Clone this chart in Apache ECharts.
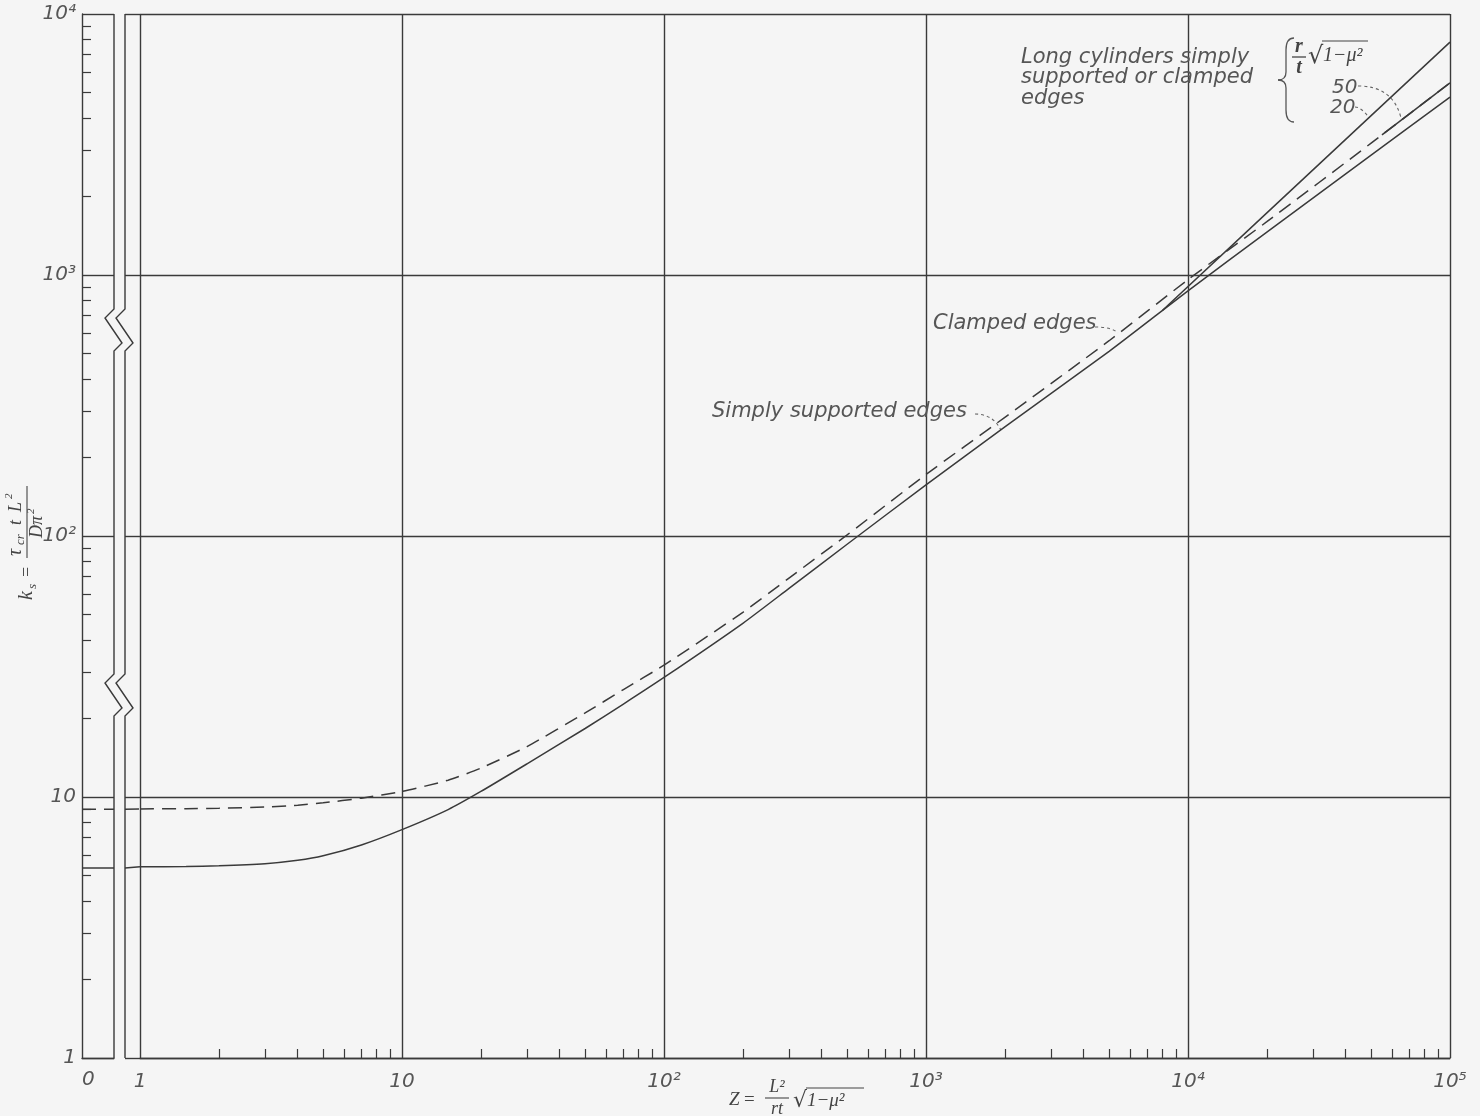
<!DOCTYPE html>
<html>
<head>
<meta charset="utf-8">
<script src="https://cdn.jsdelivr.net/npm/echarts@6.0.0/dist/echarts.min.js"></script>
<style>
  html, body { margin: 0; padding: 0; background: #f5f5f5; }
  #chart { width: 1480px; height: 1116px; }
</style>
</head>
<body>
<div id="chart"></div>
<script>
// Shear buckling coefficient k_s of cylinders versus curvature parameter Z
const zValues   = [1, 1.5, 2, 3, 4, 5, 7, 10, 15, 20, 30, 50, 70, 100, 200, 300, 500, 1000, 2000, 5000, 10000, 20000, 50000, 100000];
const kSimply   = [5.4, 5.42, 5.45, 5.55, 5.72, 5.95, 6.55, 7.5, 8.95, 10.5, 13.4, 18.3, 22.7, 28.7, 46.3, 63, 93, 157, 262, 510, 870, 1460, 2880, 4800];
const kClamped  = [9.0, 9.02, 9.05, 9.15, 9.3, 9.5, 9.9, 10.5, 11.6, 12.9, 15.6, 21.0, 25.8, 32, 51, 69, 101, 172, 285, 560, 960, 1600, 3200, 5450];
// values at Z = 0 (left strip of the broken axis)
const kZeroSimply  = 5.35;
const kZeroClamped = 8.98;
// long-cylinder lines, (r/t)·sqrt(1-mu^2) = 20 and 50
const zLong20 = [8000, 20000, 50000, 100000];
const kLong20 = [733, 1730, 4080, 7800];
const zLong50 = [55000, 100000];
const kLong50 = [3440, 5450];
// axis decades and their labels
const xDecades = [1, 10, 100, 1000, 10000, 100000];
const xDecadeLabels = ['1', '10', '10²', '10³', '10⁴', '10⁵'];
const yDecades = [1, 10, 100, 1000, 10000];
const yDecadeLabels = ['1', '10', '10²', '10³', '10⁴'];

const INK = '#3a3a3a';
const TXT = '#565656';
const LABEL_FONT = { fontFamily: '"DejaVu Sans"', fontStyle: 'italic', fontWeight: 200, fontSize: 20, color: TXT };

function minorTicks(decades) {
  const out = [];
  for (let i = 0; i < decades.length - 1; i++) {
    for (let m = 2; m <= 9; m++) out.push(decades[i] * m);
  }
  return out;
}
const labelFor = (decades, labels) => (v) =>
  labels[decades.findIndex(d => Math.abs(d - v) / d < 1e-6)] || '';

// layout of the three plotting panels: Z = 0 strip, short stub, main log panel
const TOP = 14, BOTTOM_Y = 1058;
const STRIP_L = 82, STRIP_R = 114;
const STUB_L = 125, MAIN_L = 140, MAIN_R = 1450;

const chart = echarts.init(document.getElementById('chart'), null, { renderer: 'canvas' });

const pairs = (xs, ys) => xs.map((x, i) => [x, ys[i]]);
const solid = { color: INK, width: 1.5, type: 'solid' };
const dashed = { color: INK, width: 1.5, type: [14, 8] };
const base = { type: 'line', symbol: 'none', silent: true, animation: false };
const gridLine = { show: true, lineStyle: { color: INK, width: 1.4 } };

const logY = (extra) => Object.assign({
  type: 'log', logBase: 10, min: 1, max: 10000, position: 'left',
  splitLine: gridLine,
  axisLine: { show: false }, axisTick: { show: false }, axisLabel: { show: false }
}, extra);

chart.setOption({
  backgroundColor: '#f5f5f5',
  animation: false,
  grid: [
    { left: STRIP_L, width: STRIP_R - STRIP_L, top: TOP, height: BOTTOM_Y - TOP },
    { left: STUB_L, width: MAIN_L - STUB_L, top: TOP, height: BOTTOM_Y - TOP },
    { left: MAIN_L, width: MAIN_R - MAIN_L, top: TOP, height: BOTTOM_Y - TOP }
  ],
  xAxis: [
    { gridIndex: 0, type: 'value', min: 0, max: 1, position: 'bottom',
      axisLine: { show: true, lineStyle: { color: INK, width: 1.4 } },
      axisTick: { show: false }, splitLine: { show: false },
      axisLabel: Object.assign({ customValues: [0], formatter: () => '0', margin: 12, align: 'left' }, LABEL_FONT) },
    { gridIndex: 1, type: 'value', min: 0, max: 1, show: false },
    // main Z axis: decade grid lines and labels
    { gridIndex: 2, type: 'log', logBase: 10, min: 1, max: 100000, position: 'bottom',
      axisLine: { show: true, lineStyle: { color: INK, width: 1.4 } },
      axisTick: { show: false },
      splitLine: gridLine,
      axisLabel: Object.assign({ margin: 14, formatter: labelFor(xDecades, xDecadeLabels) }, LABEL_FONT) },
    // main Z axis: intermediate ticks only
    { gridIndex: 2, type: 'log', logBase: 10, min: 1, max: 100000, position: 'bottom', offset: 0,
      axisLine: { show: false }, splitLine: { show: false }, axisLabel: { show: false },
      axisTick: { show: true, inside: true, length: 9, customValues: minorTicks(xDecades), lineStyle: { color: INK, width: 1.2 } } }
  ],
  yAxis: [
    logY({ gridIndex: 0,
      axisLine: { show: true, lineStyle: { color: INK, width: 1.4 } },
      axisLabel: Object.assign({ show: true, margin: 6, formatter: labelFor(yDecades, yDecadeLabels) }, LABEL_FONT) }),
    logY({ gridIndex: 1 }),
    logY({ gridIndex: 2 }),
    // k_s axis: intermediate ticks only, on the strip's left edge
    logY({ gridIndex: 0, offset: 0, splitLine: { show: false },
      axisTick: { show: true, inside: true, length: 9, customValues: minorTicks(yDecades), lineStyle: { color: INK, width: 1.2 } } })
  ],
  series: [
    Object.assign({}, base, { name: 'Clamped edges (Z = 0)', xAxisIndex: 0, yAxisIndex: 0, lineStyle: dashed,
      data: [[0, kZeroClamped], [1, kZeroClamped]] }),
    Object.assign({}, base, { name: 'Simply supported edges (Z = 0)', xAxisIndex: 0, yAxisIndex: 0, lineStyle: solid,
      data: [[0, kZeroSimply], [1, kZeroSimply]] }),
    Object.assign({}, base, { name: 'Clamped edges (stub)', xAxisIndex: 1, yAxisIndex: 1, lineStyle: dashed,
      data: [[0, kZeroClamped], [1, kClamped[0]]] }),
    Object.assign({}, base, { name: 'Simply supported edges (stub)', xAxisIndex: 1, yAxisIndex: 1, lineStyle: solid,
      data: [[0, kZeroSimply], [1, kSimply[0]]] }),
    Object.assign({}, base, { name: 'Clamped edges', xAxisIndex: 2, yAxisIndex: 2, lineStyle: dashed,
      smooth: 0.2, data: pairs(zValues, kClamped) }),
    Object.assign({}, base, { name: 'Simply supported edges', xAxisIndex: 2, yAxisIndex: 2, lineStyle: solid,
      smooth: 0.2, data: pairs(zValues, kSimply) }),
    Object.assign({}, base, { name: 'Long cylinders 20', xAxisIndex: 2, yAxisIndex: 2, lineStyle: solid,
      data: pairs(zLong20, kLong20) }),
    Object.assign({}, base, { name: 'Long cylinders 50', xAxisIndex: 2, yAxisIndex: 2, lineStyle: solid,
      data: pairs(zLong50, kLong50) })
  ]
});

// ---- annotations, break symbols and axis titles ----
const px = (z, k) => chart.convertToPixel({ gridIndex: 2 }, [z, k]);
const textEl = (text, x, y, opts) => Object.assign({
  type: 'text', silent: true,
  style: Object.assign({ text, x, y, fill: TXT,
    font: 'italic 200 21px "DejaVu Sans"', textAlign: 'left', textVerticalAlign: 'middle',
    align: 'left', verticalAlign: 'middle' }, opts || {})
});
const mathEl = (text, x, y, size, opts) => textEl(text, x, y, Object.assign({
  font: 'italic ' + size + 'px "Liberation Serif"', fill: '#444' }, opts || {}));
const lineEl = (x1, y1, x2, y2, style) => ({ type: 'line', silent: true,
  shape: { x1, y1, x2, y2 }, style: Object.assign({ stroke: INK, lineWidth: 1.4 }, style || {}) });
const curveEl = (x1, y1, cx, cy, x2, y2, style) => ({ type: 'bezierCurve', silent: true,
  shape: { x1, y1, x2, y2, cpx1: cx, cpy1: cy }, style: Object.assign({ stroke: TXT, lineWidth: 1.1, fill: null }, style || {}) });
const dotted = { lineDash: [3, 3], lineWidth: 1.1, stroke: '#666' };
const braceStyle = { stroke: '#555', lineWidth: 1.3 };

function breakLine(x, zig) {
  const pts = [[x, TOP]];
  zig.forEach(y0 => {
    pts.push([x, y0], [x - 9, y0 + 9], [x + 8, y0 + 34], [x, y0 + 42]);
  });
  pts.push([x, BOTTOM_Y]);
  return { type: 'polyline', silent: true, shape: { points: pts },
    style: { stroke: INK, lineWidth: 1.4, fill: null } };
}

const endClamped = px(5400, 600);
const endSimply  = px(1930, 255);
const end50 = px(65000, 4000);
const end20 = px(49000, 4020);

const graphics = [
  breakLine(STRIP_R, [309, 674]),
  breakLine(STUB_L, [309, 674]),

  // long-cylinder note with brace
  textEl('Long cylinders simply', 1021, 58),
  textEl('supported or clamped', 1021, 78),
  textEl('edges', 1021, 99),
  curveEl(1294, 38, 1286, 38, 1286, 50, braceStyle),
  lineEl(1286, 50, 1286, 72, braceStyle),
  curveEl(1286, 72, 1286, 80, 1278, 80, braceStyle),
  curveEl(1278, 80, 1286, 80, 1286, 88, braceStyle),
  lineEl(1286, 88, 1286, 110, braceStyle),
  curveEl(1286, 110, 1286, 122, 1294, 122, braceStyle),
  mathEl('r', 1299, 47, 20, { font: 'italic bold 20px "Liberation Serif"', textAlign: 'center', align: 'center' }),
  lineEl(1292, 57, 1306, 57, { stroke: '#444', lineWidth: 1.3 }),
  mathEl('t', 1299, 68, 20, { font: 'italic bold 20px "Liberation Serif"', textAlign: 'center', align: 'center' }),
  mathEl('√', 1308, 57, 24, { font: '24px "DejaVu Sans"' }),
  lineEl(1322, 41, 1368, 41, { stroke: '#444', lineWidth: 1.2 }),
  mathEl('1−μ²', 1323, 56, 20),
  textEl('50', 1332, 88, { font: 'italic 200 20px "DejaVu Sans"' }),
  textEl('20', 1330, 108, { font: 'italic 200 20px "DejaVu Sans"' }),
  curveEl(1358, 86, end50[0] - 8, 86, end50[0], end50[1], dotted),
  curveEl(1355, 107, end20[0] - 8, 107, end20[0], end20[1], dotted),

  // curve labels
  textEl('Clamped edges', 933, 324),
  curveEl(1095, 327, endClamped[0] - 6, 327, endClamped[0], endClamped[1], dotted),
  textEl('Simply supported edges', 712, 412),
  curveEl(975, 414, endSimply[0] - 8, 414, endSimply[0], endSimply[1], dotted),

  // x-axis title: Z = L^2/(rt) sqrt(1 - mu^2)
  mathEl('Z', 729, 1100, 19),
  mathEl('=', 744, 1100, 19, { font: '19px "Liberation Serif"' }),
  mathEl('L²', 777, 1087, 18, { textAlign: 'center', align: 'center' }),
  lineEl(765, 1098, 789, 1098, { stroke: '#444', lineWidth: 1.1 }),
  mathEl('rt', 777, 1109, 18, { textAlign: 'center', align: 'center' }),
  mathEl('√', 793, 1101, 22, { font: '22px "DejaVu Sans"' }),
  lineEl(806, 1088, 864, 1088, { stroke: '#444', lineWidth: 1.1 }),
  mathEl('1−μ²', 807, 1101, 19),

  // y-axis title, rotated: k_s = tau_cr t L^2 / (D pi^2)
  { type: 'group', x: 27, y: 600, rotation: Math.PI / 2, silent: true, children: [
    mathEl('k', 0, 0, 20),
    mathEl('s', 11, 6, 13),
    mathEl('=', 23, 0, 18, { font: '18px "Liberation Serif"' }),
    mathEl('τ', 44, -11, 20),
    mathEl('cr', 55, -6, 13),
    mathEl('t', 75, -11, 18),
    mathEl('L', 88, -11, 18),
    mathEl('2', 101, -18, 11),
    lineEl(42, 0, 114, 0, { stroke: '#444', lineWidth: 1.1 }),
    mathEl('Dπ', 62, 10, 18),
    mathEl('2', 86, 4, 11)
  ] }
];

chart.setOption({ graphic: { elements: graphics } });
</script>
</body>
</html>
